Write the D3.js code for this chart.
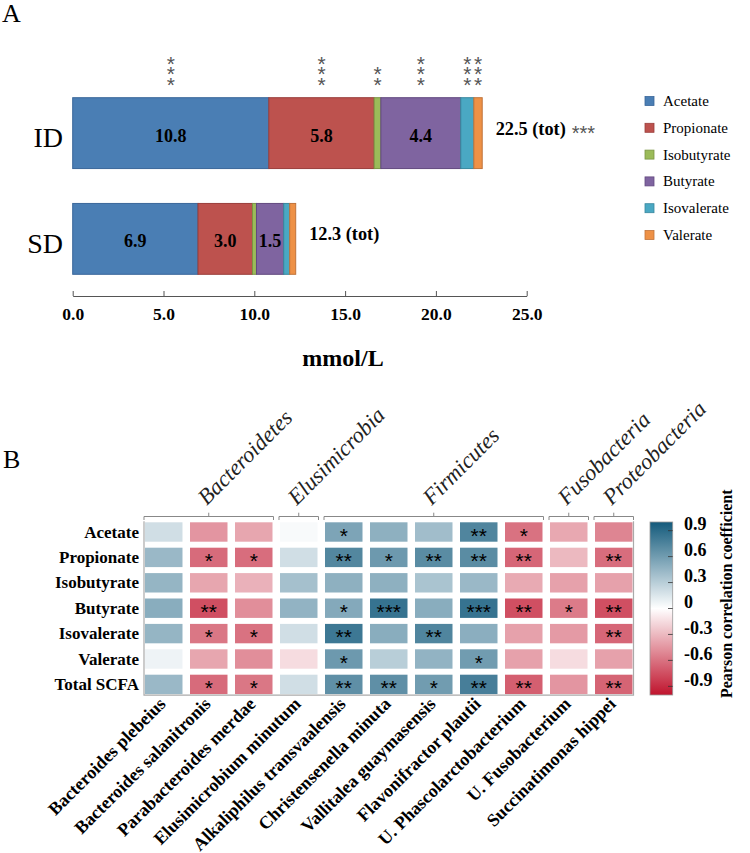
<!DOCTYPE html>
<html><head><meta charset="utf-8">
<script src="https://cdn.jsdelivr.net/npm/d3@7"></script>
<style>body{margin:0;background:#fff} svg{display:block}</style>
</head><body>
<svg id="chart" width="750" height="853"></svg>
<script>
// ---------- Panel A data ----------
const acids = ["Acetate","Propionate","Isobutyrate","Butyrate","Isovalerate","Valerate"];
const groups = ["ID","SD"];
const idValues = [10.8, 5.8, 0.37, 4.4, 0.72, 0.46];
const sdValues = [6.9, 3.0, 0.22, 1.5, 0.33, 0.33];
const idLabels = ["10.8","5.8","","4.4","",""];
const sdLabels = ["6.9","3.0","","1.5","",""];
const totalLabels = ["22.5 (tot)", "12.3 (tot)"];
const totalSig = ["***", ""];
const acidSigCount = [3, 3, 2, 3, 3, 3];
const xTicks = [0, 5, 10, 15, 20, 25];
const acidFill = ["#4A7EB4","#BD524E","#9BBB59","#7F64A0","#4AA8C3","#EE9146"];
const acidStroke = ["#3A679A","#9A3E3B","#7A9544","#62497F","#38879D","#C0733A"];

// ---------- Panel B data ----------
const rows = ["Acetate","Propionate","Isobutyrate","Butyrate","Isovalerate","Valerate","Total SCFA"];
const species = ["Bacteroides plebeius","Bacteroides salanitronis","Parabacteroides merdae",
  "Elusimicrobium minutum","Alkaliphilus transvaalensis","Christensenella minuta",
  "Vallitalea guaymasensis","Flavonifractor plautii","U. Phascolarctobacterium",
  "U. Fusobacterium","Succinatimonas hippei"];
const phylumNames = ["Bacteroidetes","Elusimicrobia","Firmicutes","Fusobacteria","Proteobacteria"];
const phylumFirst = [0, 3, 4, 9, 10];
const phylumLast  = [2, 3, 8, 9, 10];
const corr = [
  [0.20,-0.45,-0.38, 0.03, 0.55, 0.48, 0.40, 0.74,-0.60,-0.37,-0.52],
  [0.43,-0.63,-0.62, 0.20, 0.73, 0.62, 0.70, 0.70,-0.65,-0.30,-0.62],
  [0.45,-0.38,-0.33, 0.38, 0.48, 0.48, 0.36, 0.43,-0.36,-0.40,-0.40],
  [0.50,-0.75,-0.48, 0.46, 0.52, 0.85, 0.50, 0.85,-0.75,-0.56,-0.75],
  [0.45,-0.58,-0.60, 0.20, 0.82, 0.50, 0.74, 0.49,-0.40,-0.43,-0.65],
  [0.07,-0.38,-0.48,-0.15, 0.62, 0.30, 0.46, 0.60,-0.40,-0.15,-0.40],
  [0.43,-0.63,-0.58, 0.20, 0.68, 0.68, 0.60, 0.78,-0.68,-0.45,-0.66]
];
const sig = [
  ["","","","","*","","","**","*","",""],
  ["","*","*","","**","*","**","**","**","","**"],
  ["","","","","","","","","","",""],
  ["","**","","","*","***","","***","**","*","**"],
  ["","*","*","","**","","**","","","","**"],
  ["","","","","*","","","*","","",""],
  ["","*","*","","**","**","*","**","**","","**"]
];
const cbTicks = [0.9, 0.6, 0.3, 0, -0.3, -0.6, -0.9];
const cbTickLabels = ["0.9","0.6","0.3","0","-0.3","-0.6","-0.9"];

const serif = "'Liberation Serif','Times New Roman',serif";
const sans = "'Liberation Sans',Arial,sans-serif";
const svg = d3.select("#chart");

// ================= Panel A =================
svg.append("text").attr("x", 2).attr("y", 22).attr("font-family", serif)
  .attr("font-size", 26).text("A");

const xA = d3.scaleLinear().domain([0, 25]).range([72.7, 526.7]);
const yA = d3.scaleBand().domain(groups).range([97.7, 274.3]).paddingInner(0.33).paddingOuter(0);

const stacks = [idValues, sdValues];
const segLabels = [idLabels, sdLabels];
groups.forEach((g, gi) => {
  const vals = stacks[gi];
  let cum = 0;
  const segs = vals.map((v, i) => { const s = {i, v, x0: cum, x1: cum + v}; cum += v; return s; });
  const gg = svg.append("g");
  gg.selectAll("rect").data(segs).join("rect")
    .attr("x", d => xA(d.x0)).attr("width", d => xA(d.x1) - xA(d.x0))
    .attr("y", yA(g)).attr("height", yA.bandwidth())
    .attr("fill", d => acidFill[d.i]).attr("stroke", d => acidStroke[d.i]).attr("stroke-width", 1);
  gg.selectAll("text.val").data(segs.filter(d => segLabels[gi][d.i])).join("text")
    .attr("class", "val")
    .attr("x", d => xA((d.x0 + d.x1) / 2)).attr("y", yA(g) + yA.bandwidth() / 2 + 2.5)
    .attr("text-anchor", "middle").attr("dominant-baseline", "central")
    .attr("font-family", serif).attr("font-weight", "bold").attr("font-size", 18)
    .text(d => segLabels[gi][d.i]);
  svg.append("text").attr("x", 63).attr("y", yA(g) + yA.bandwidth() / 2 + 4.5)
    .attr("text-anchor", "end").attr("dominant-baseline", "central")
    .attr("font-family", serif).attr("font-size", 28).text(g);
  const t = svg.append("text").attr("x", xA(cum) + 13.5).attr("y", yA(g) + yA.bandwidth() / 2 - 4.5)
    .attr("dominant-baseline", "central")
    .attr("font-family", serif).attr("font-weight", "bold").attr("font-size", 18.3)
    .text(totalLabels[gi]);
  if (totalSig[gi]) {
    t.append("tspan").attr("dx", 6).attr("fill", "#555").attr("font-weight", "normal")
      .attr("font-family", sans).attr("font-size", 20).attr("dy", 4).text(totalSig[gi]);
  }
  if (gi === 0) {
    segs.forEach(s => {
      const n = acidSigCount[s.i];
      const cx = xA((s.x0 + s.x1) / 2);
      const txt = svg.append("text").attr("text-anchor", "middle").attr("font-family", sans)
        .attr("font-size", 21).attr("fill", "#555");
      for (let k = n - 1; k >= 0; k--) {
        txt.append("tspan").attr("x", cx).attr("y", yA(g) - 16.7 - k * 10.4 + 10.5).text("*");
      }
    });
  }
});

const axA = d3.axisBottom(xA).tickValues(xTicks).tickFormat(d3.format(".1f"))
  .tickSizeInner(-5).tickSizeOuter(0).tickPadding(11.6);
const gAx = svg.append("g").attr("transform", "translate(0,296)").call(axA);
gAx.select(".domain").attr("stroke", "#555");
gAx.selectAll(".tick line").attr("stroke", "#555");
gAx.selectAll(".tick text").attr("font-family", serif).attr("font-weight", "bold")
  .attr("font-size", 17.5).attr("fill", "#000");
svg.append("text").attr("x", 343).attr("y", 365.7).attr("text-anchor", "middle")
  .attr("font-family", serif).attr("font-weight", "bold").attr("font-size", 24).text("mmol/L");

// legend
const leg = svg.append("g");
acids.forEach((a, i) => {
  const y = 101 + i * 26.8;
  leg.append("rect").attr("x", 645).attr("y", y - 4.5).attr("width", 9).attr("height", 9)
    .attr("fill", acidFill[i]).attr("stroke", acidStroke[i]).attr("stroke-width", 0.8);
  leg.append("text").attr("x", 663).attr("y", y).attr("dominant-baseline", "central")
    .attr("font-family", serif).attr("font-size", 15).text(a);
});

// ================= Panel B =================
svg.append("text").attr("x", 3).attr("y", 468).attr("font-family", serif)
  .attr("font-size", 26).text("B");

const xH = d3.scaleBand().domain(species).range([141.25, 636.25]).paddingInner(0.1667).paddingOuter(0.0833);
const yH = d3.scaleBand().domain(rows).range([519.3, 697.1]).paddingInner(0.236).paddingOuter(0.118);
const color = d3.scaleLinear().domain([-1, 0, 1]).range(["#c0142d", "#ffffff", "#135a7c"]);

const cells = [];
rows.forEach((r, ri) => species.forEach((s, ci) => cells.push({r, s, v: corr[ri][ci], sg: sig[ri][ci]})));
const gH = svg.append("g");
gH.selectAll("rect").data(cells).join("rect")
  .attr("x", d => xH(d.s)).attr("y", d => yH(d.r))
  .attr("width", xH.bandwidth()).attr("height", yH.bandwidth())
  .attr("fill", d => color(d.v));
gH.selectAll("text").data(cells.filter(d => d.sg)).join("text")
  .attr("x", d => xH(d.s) + xH.bandwidth() / 2)
  .attr("y", d => yH(d.r) + yH.bandwidth() / 2 + 10.5)
  .attr("text-anchor", "middle").attr("font-family", sans).attr("font-size", 21)
  .attr("fill", "#000").text(d => d.sg);

const fx0 = xH(species[0]) - 1, fx1 = xH(species[species.length - 1]) + xH.bandwidth() + 1;
const fy0 = yH(rows[0]) - 1, fy1 = yH(rows[rows.length - 1]) + yH.bandwidth() + 1;
svg.append("path").attr("d", `M${fx0},${fy0}V${fy1}H${fx1}V${fy0}`)
  .attr("fill", "none").attr("stroke", "#aaa").attr("stroke-width", 1.2);

svg.append("g").selectAll("text").data(rows).join("text")
  .attr("x", 139).attr("y", d => yH(d) + yH.bandwidth() / 2)
  .attr("dy", "0.33em").attr("text-anchor", "end")
  .attr("font-family", serif).attr("font-weight", "bold").attr("font-size", 17).text(d => d);

svg.append("g").selectAll("text").data(species).join("text")
  .attr("transform", d => `translate(${xH(d) + xH.bandwidth() / 2 + 3},705) rotate(-45)`)
  .attr("text-anchor", "end")
  .attr("font-family", serif).attr("font-weight", "bold").attr("font-size", 18).text(d => d);

const gB = svg.append("g").attr("fill", "none").attr("stroke", "#888").attr("stroke-width", 1);
phylumNames.forEach((p, i) => {
  const x0 = xH(species[phylumFirst[i]]) - 1;
  const x1 = xH(species[phylumLast[i]]) + xH.bandwidth() + 1;
  const yl = 516.5, cx = (x0 + x1) / 2;
  gB.append("path").attr("d", `M${x0},520V${yl}H${x1}V520M${cx},${yl}V512.7`);
  svg.append("text").attr("transform", `translate(${cx - 2},506) rotate(-45)`)
    .attr("font-family", serif).attr("font-style", "italic").attr("font-size", 22.5)
    .attr("fill", "#222").text(p);
});

const cb = d3.scaleLinear().domain([-1, 1]).range([695, 522]);
const defs = svg.append("defs");
const grad = defs.append("linearGradient").attr("id", "cbg").attr("x1", 0).attr("x2", 0).attr("y1", 0).attr("y2", 1);
d3.range(0, 21).forEach(k => {
  const v = 1 - k * 0.1;
  grad.append("stop").attr("offset", (k / 20)).attr("stop-color", color(v));
});
svg.append("rect").attr("x", 650).attr("y", cb(1)).attr("width", 22.7).attr("height", cb(-1) - cb(1))
  .attr("fill", "url(#cbg)").attr("stroke", "#999").attr("stroke-width", 0.8);
svg.append("g").selectAll("line").data(cbTicks).join("line")
  .attr("x1", 668).attr("x2", 672.7).attr("y1", d => cb(d)).attr("y2", d => cb(d))
  .attr("stroke", "#333").attr("stroke-width", 0.8);
svg.append("g").selectAll("text").data(cbTicks).join("text")
  .attr("x", 684).attr("y", d => cb(d) - 6.5).attr("dominant-baseline", "central")
  .attr("font-family", serif).attr("font-weight", "bold").attr("font-size", 18)
  .text((d, i) => cbTickLabels[i]);
svg.append("text").attr("transform", "translate(732,698) rotate(-90)")
  .attr("font-family", serif).attr("font-weight", "bold").attr("font-size", 16)
  .text("Pearson correlation coefficient");
</script>
</body></html>
